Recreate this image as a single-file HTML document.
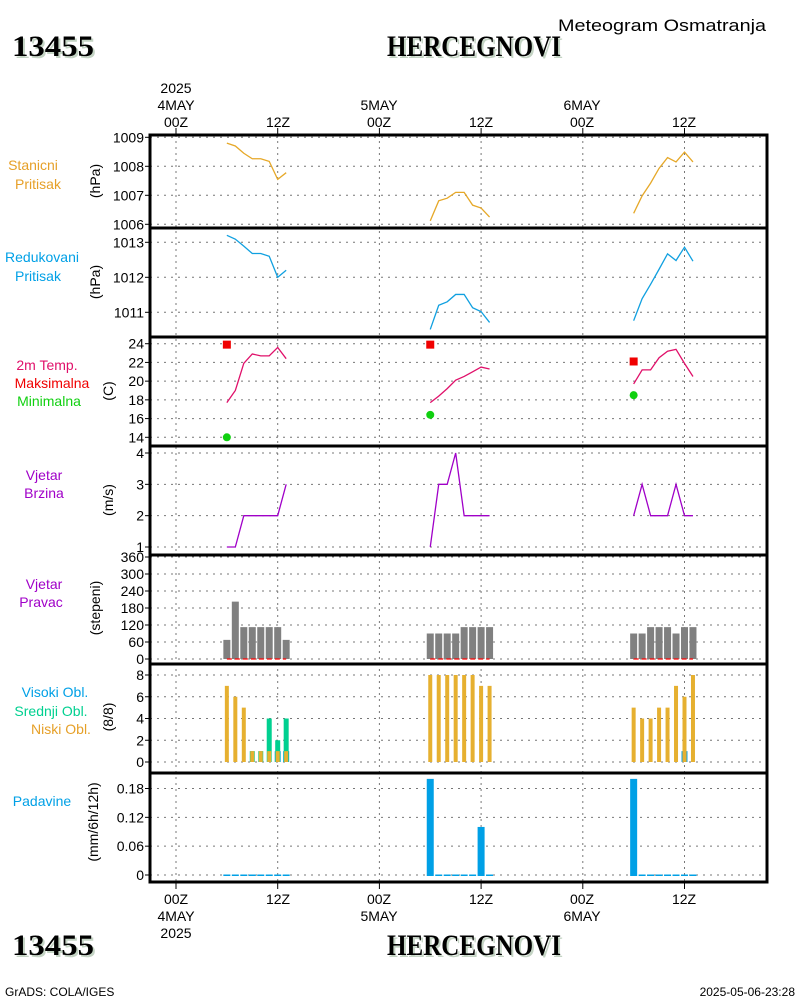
<!DOCTYPE html>
<html><head><meta charset="utf-8"><style>
html,body{margin:0;padding:0;background:#fff;}
svg{display:block;}
text{font-family:"Liberation Sans",sans-serif;}
.t{font-size:14px;fill:#000;}
.big{font-family:"Liberation Serif",serif;font-weight:bold;font-size:30px;}
</style></head><body>
<svg id="chart" width="800" height="1000" viewBox="0 0 800 1000" xmlns="http://www.w3.org/2000/svg">
<g id="static"></g>
<g id="marks"></g>
</svg>
<script>
// ---- data (hourly 06Z..13Z each day) ----
const days = [0, 24, 48];
const hours = [6, 7, 8, 9, 10, 11, 12, 13];
const stnPres = [
 [1008.8,1008.7,1008.45,1008.26,1008.26,1008.17,1007.55,1007.78],
 [1006.12,1006.81,1006.9,1007.1,1007.1,1006.66,1006.56,1006.25],
 [1006.38,1006.98,1007.42,1007.93,1008.3,1008.15,1008.49,1008.15]];
const redPres = [
 [1013.2,1013.09,1012.89,1012.68,1012.68,1012.6,1012.0,1012.2],
 [1010.51,1011.2,1011.3,1011.51,1011.51,1011.13,1011.02,1010.71],
 [1010.76,1011.39,1011.8,1012.23,1012.67,1012.48,1012.86,1012.46]];
const temp = [
 [17.7,19.0,21.9,22.9,22.7,22.7,23.6,22.4],
 [17.7,18.4,19.2,20.1,20.5,21.0,21.5,21.3],
 [19.7,21.2,21.2,22.5,23.2,23.4,21.9,20.5]];
const tMax = [23.9, 23.9, 22.1];
const tMin = [14.0, 16.4, 18.5];
const windSpd = [
 [1,1,2,2,2,2,2,3],
 [1,3,3,4,2,2,2,2],
 [2,3,2,2,2,3,2,2]];
const windDir = [
 [67.5,202.5,112.5,112.5,112.5,112.5,112.5,67.5],
 [90,90,90,90,112.5,112.5,112.5,112.5],
 [90,90,112.5,112.5,112.5,90,112.5,112.5]];
const lowCl = [[7,6,5,1,1,1,1,1],[8,8,8,8,8,8,7,7],[5,4,4,5,5,7,6,8]];
const midCl = [[0,0,0,1,1,4,2,4],[0,0,0,0,0,0,0,0],[0,0,0,0,0,0,0,0]];
const highCl = [[0,0,0,0,0,0,1,1],[0,0,0,0,0,0,0,0],[0,0,0,0,0,0,1,0]];
const precip = [[0,0,0,0,0,0,0,0],[0.2,0,0,0,0,0,0.1,0],[0.2,0,0,0,0,0,0,0]];
const presTicks = [1006,1007,1008,1009];
const redTicks = [1011,1012,1013];
const tempTicks = [14,16,18,20,22,24];
const spdTicks = [1,2,3,4];
const dirTicks = [0,60,120,180,240,300,360];
const cloudTicks = [0,2,4,6,8];
const precTicks = [0,0.06,0.12,0.18];
const precLabels = ["0","0.06","0.12","0.18"];

const NS="http://www.w3.org/2000/svg";
const st=document.getElementById('static'), mk=document.getElementById('marks');
function el(tag,attrs,parent,txt){const e=document.createElementNS(NS,tag);for(const k in attrs)e.setAttribute(k,attrs[k]);if(txt!==undefined)e.textContent=txt;(parent||st).appendChild(e);return e;}
const L=150,R=767;
const X=h=>176+h*101.7/12;
function lin(v0,y0,v1,y1){return v=>y0+(v-v0)*(y1-y0)/(v1-v0);}
const yStn=lin(1009,137.3,1006,224.3);
const yRed=lin(1013,242.3,1011,312.3);
const yT=lin(24,343.7,14,437.3);
const ySp=lin(4,453,1,547);
const yDir=lin(0,659,360,557);
const yCl=lin(0,762,8,675);
const yPr=lin(0,875,0.18,788.5);
const panels=[[135,228],[228,337],[337,446],[446,555],[555,664],[664,773],[773,882]];

// grid
const dayTicks=[0,12,24,36,48,60];
dayTicks.forEach(h=>{const g=el('line',{x1:X(h),x2:X(h),y1:135,y2:882,stroke:'#777','stroke-dasharray':'2,4','stroke-width':1});
});
function hgrid(ticks,fy,labels){ticks.forEach((t,i)=>{const y=fy(t);
 const g=el('line',{x1:L,x2:R,y1:y,y2:y,stroke:'#777','stroke-dasharray':'2,5','stroke-width':1});
 
 el('line',{x1:L-5,x2:L,y1:y,y2:y,stroke:'#000'});
 const tx=el('text',{x:L-6,y:y+5,'text-anchor':'end',class:'t'},st,labels?labels[i]:String(t));
 });}
hgrid(presTicks,yStn);hgrid(redTicks,yRed);hgrid(tempTicks,yT);hgrid(spdTicks,ySp);
hgrid(dirTicks,yDir);hgrid(cloudTicks,yCl);hgrid(precTicks,yPr,precLabels);

// frame
el('rect',{x:L,y:135,width:R-L,height:747,fill:'none',stroke:'#000','stroke-width':3,});
panels.slice(1).forEach(p=>el('line',{x1:L,x2:R,y1:p[0],y2:p[0],stroke:'#000','stroke-width':3}));
dayTicks.forEach(h=>{el('line',{x1:X(h),x2:X(h),y1:128,y2:135,stroke:'#000'});el('line',{x1:X(h),x2:X(h),y1:882,y2:889,stroke:'#000'});});

// x labels
function tl(x,y,s,a){const t=el('text',{x:x,y:y,'text-anchor':a||'middle',class:'t'},st,s);}
tl(176,127,'00Z');tl(278,127,'12Z');tl(379,127,'00Z');tl(481,127,'12Z');tl(582,127,'00Z');tl(684,127,'12Z');
tl(176,110,'4MAY');tl(379,110,'5MAY');tl(582,110,'6MAY');tl(176,93,'2025');
tl(176,904,'00Z');tl(278,904,'12Z');tl(379,904,'00Z');tl(481,904,'12Z');tl(582,904,'00Z');tl(684,904,'12Z');
tl(176,921,'4MAY');tl(379,921,'5MAY');tl(582,921,'6MAY');tl(176,938,'2025');

// left labels
function lab(x,y,s,c,n){const t=el('text',{x:x,y:y,'text-anchor':'middle','font-size':'14px',fill:c},st,s);}
lab(33,170,'Stanicni','#e6a028','panel-label');lab(38,189,'Pritisak','#e6a028','panel-label');
lab(42,262,'Redukovani','#00a0e6','panel-label');lab(38,281,'Pritisak','#00a0e6','panel-label');
lab(47,370,'2m Temp.','#e0106a','panel-label');lab(52,388,'Maksimalna','#f00000','panel-label');lab(49,406,'Minimalna','#10d010','panel-label');
lab(44,480,'Vjetar','#a000c8','panel-label');lab(44,498,'Brzina','#a000c8','panel-label');
lab(44,589,'Vjetar','#a000c8','panel-label');lab(41,607,'Pravac','#a000c8','panel-label');
lab(55,697,'Visoki Obl.','#00a0e6','panel-label');lab(51,716,'Srednji Obl.','#00d090','panel-label');lab(61,734,'Niski Obl.','#e6a028','panel-label');
lab(42,806,'Padavine','#00a0e6','panel-label');
function yl(x,y,s){const t=el('text',{x:0,y:0,'text-anchor':'middle',class:'t',transform:`translate(${x},${y}) rotate(-90)`},st,s);}
yl(100,181,'(hPa)');yl(100,282,'(hPa)');yl(113,391,'(C)');yl(113,500,'(m/s)');yl(100,608,'(stepeni)');yl(113,717,'(8/8)');yl(98,822,'(mm/6h/12h)');

// titles
function big(x,y,s,n,len){const sh=el('text',{x:x+2,y:y+2,class:'big',fill:'#c4d4c4',textLength:len,lengthAdjust:'spacingAndGlyphs'},st,s);
 const t=el('text',{x:x,y:y,class:'big',fill:'#000',textLength:len,lengthAdjust:'spacingAndGlyphs'},st,s);}
big(12,56,'13455','station-id',82);big(387,56,'HERCEGNOVI','station-name',174);
big(12,955,'13455','station-id-bottom',82);big(387,955,'HERCEGNOVI','station-name-bottom',174);
const mt=el('text',{x:558,y:31,'font-size':'17px',fill:'#000',textLength:208,lengthAdjust:'spacingAndGlyphs'},st,'Meteogram Osmatranja');
const f1=el('text',{x:5,y:996,'font-size':'12px',fill:'#000'},st,'GrADS: COLA/IGES');
const f2=el('text',{x:795,y:996,'font-size':'12px',fill:'#000','text-anchor':'end'},st,'2025-05-06-23:28');

// series
function line(vals,fy,color,name){days.forEach((d,di)=>{const pts=hours.map((h,i)=>X(d+h)+','+fy(vals[di][i])).join(' ');
 const p=el('polyline',{points:pts,fill:'none',stroke:color,'stroke-width':1.3},mk);
 });}
line(stnPres,yStn,'#e6a828','station-pressure-line');
line(redPres,yRed,'#10a0e0','reduced-pressure-line');
line(temp,yT,'#e0106a','temperature-line');
line(windSpd,ySp,'#a000c8','wind-speed-line');
days.forEach((d,di)=>{const x=X(d+6);
 const r=el('rect',{x:x-4,y:yT(tMax[di])-4,width:8,height:8,fill:'#f00000'},mk);
 const c=el('circle',{cx:x,cy:yT(tMin[di]),r:4,fill:'#10d010'},mk);});
function bar(x,w,y0,v,fy,color,name,minh){let top=fy(v),h=y0-top;if(h<(minh||0)){h=minh;top=y0-h;}
 const b=el('rect',{x:x-w/2,y:top,width:w,height:h,fill:color},mk);}
days.forEach((d,di)=>{
 hours.forEach((h,i)=>{const x=X(d+h);
  bar(x,7,yDir(0),windDir[di][i],yDir,'#808080','wind-direction-bar');
  if(highCl[di][i]>0)bar(x,6,yCl(0),highCl[di][i],yCl,'#10a0e0','high-cloud-bar');
  if(midCl[di][i]>0)bar(x,5,yCl(0),midCl[di][i],yCl,'#00d090','mid-cloud-bar');
  bar(x,4,yCl(0),lowCl[di][i],yCl,'#e6b030','low-cloud-bar');
  bar(x,7,yPr(0)+1,precip[di][i],yPr,'#00a0e6','precip-bar',1.5);
 });
 const dl=el('line',{x1:X(d+6),x2:X(d+13),y1:yDir(0),y2:yDir(0),stroke:'#f00','stroke-dasharray':'5,3','stroke-width':1.2},mk);
 
});
</script>
</body></html>
